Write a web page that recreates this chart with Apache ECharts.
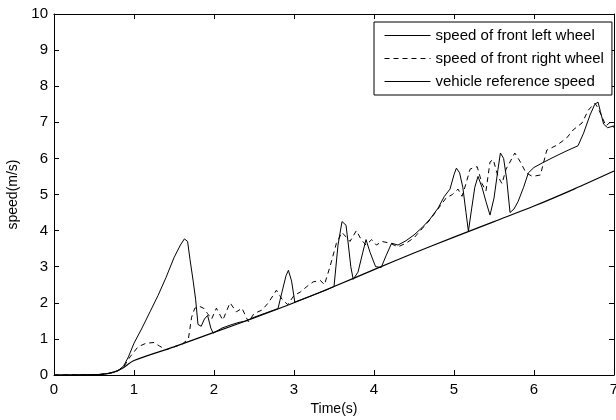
<!DOCTYPE html>
<html>
<head>
<meta charset="utf-8">
<script src="https://cdn.jsdelivr.net/npm/echarts@6/dist/echarts.min.js"></script>
<style>html,body{margin:0;padding:0;background:#fff}#c{width:616px;height:420px}</style>
</head>
<body>
<div id="c"></div>
<script>
var seriesNames = ['speed of front left wheel', 'speed of front right wheel', 'vehicle reference speed'];
var xTicks = [0, 1, 2, 3, 4, 5, 6, 7];
var yTicks = [0, 1, 2, 3, 4, 5, 6, 7, 8, 9, 10];

var leftTime = [0, 0.55, 0.7, 0.8, 0.87, 0.93, 1.0, 1.1, 1.2, 1.3, 1.4, 1.5, 1.58, 1.63, 1.67, 1.7, 1.74, 1.77, 1.8, 1.84, 1.88, 1.92, 1.96, 1.99, 2.1, 2.2, 2.3, 2.4, 2.5, 2.6, 2.7, 2.8, 2.85, 2.9, 2.93, 2.97, 3.01, 3.2, 3.4, 3.5, 3.55, 3.6, 3.65, 3.68, 3.71, 3.74, 3.8, 3.86, 3.9, 3.95, 4.02, 4.09, 4.15, 4.22, 4.3, 4.4, 4.5, 4.6, 4.7, 4.8, 4.88, 4.95, 5.0, 5.03, 5.07, 5.11, 5.15, 5.18, 5.22, 5.26, 5.3, 5.35, 5.4, 5.45, 5.5, 5.55, 5.58, 5.62, 5.66, 5.7, 5.75, 5.8, 5.87, 5.93, 6.0, 6.1, 6.25, 6.4, 6.55, 6.62, 6.7, 6.76, 6.8, 6.83, 6.87, 6.92, 7.0];
var leftSpeed = [0, 0.01, 0.05, 0.12, 0.25, 0.5, 0.88, 1.3, 1.75, 2.2, 2.7, 3.25, 3.6, 3.77, 3.7, 3.2, 2.6, 2.1, 1.4, 1.35, 1.55, 1.65, 1.3, 1.16, 1.3, 1.38, 1.45, 1.5, 1.6, 1.68, 1.76, 1.84, 2.3, 2.75, 2.9, 2.6, 2.02, 2.18, 2.35, 2.45, 3.6, 4.25, 4.15, 3.6, 3.0, 2.65, 2.85, 3.4, 3.75, 3.4, 3.0, 2.98, 3.3, 3.65, 3.6, 3.72, 3.88, 4.08, 4.32, 4.62, 4.95, 5.15, 5.55, 5.73, 5.6, 5.2, 4.5, 3.98, 4.6, 5.2, 5.5, 5.2, 4.8, 4.43, 4.9, 5.7, 6.15, 6.0, 5.4, 4.5, 4.6, 4.8, 5.2, 5.6, 5.75, 5.87, 6.04, 6.2, 6.35, 6.7, 7.2, 7.5, 7.56, 7.3, 6.95, 6.85, 6.9];

var rightTime = [0, 0.55, 0.7, 0.8, 0.87, 0.95, 1.05, 1.15, 1.25, 1.32, 1.4, 1.5, 1.6, 1.68, 1.72, 1.76, 1.82, 1.87, 1.92, 1.97, 2.03, 2.11, 2.2, 2.28, 2.35, 2.43, 2.5, 2.6, 2.68, 2.78, 2.85, 2.92, 3.0, 3.08, 3.16, 3.24, 3.33, 3.38, 3.45, 3.53, 3.6, 3.7, 3.78, 3.84, 3.9, 3.97, 4.03, 4.1, 4.2, 4.3, 4.4, 4.5, 4.6, 4.7, 4.8, 4.9, 4.98, 5.05, 5.1, 5.15, 5.2, 5.25, 5.29, 5.35, 5.4, 5.45, 5.49, 5.55, 5.6, 5.65, 5.7, 5.76, 5.83, 5.9, 5.98, 6.08, 6.16, 6.29, 6.41, 6.49, 6.6, 6.68, 6.76, 6.8, 6.85, 6.9, 6.95, 7.0];
var rightSpeed = [0, 0.01, 0.05, 0.12, 0.22, 0.5, 0.78, 0.88, 0.9, 0.8, 0.7, 0.78, 0.85, 1.0, 1.6, 1.85, 1.9, 1.85, 1.7, 1.55, 1.85, 1.52, 2.0, 1.75, 1.85, 1.47, 1.7, 1.8, 2.0, 2.35, 2.1, 1.95, 2.2, 2.3, 2.45, 2.58, 2.62, 2.5, 3.0, 3.65, 3.95, 3.7, 4.0, 3.75, 3.6, 3.75, 3.6, 3.7, 3.65, 3.55, 3.65, 3.8, 4.05, 4.3, 4.6, 4.9, 5.0, 5.15, 4.95, 5.3, 5.7, 5.75, 5.77, 5.3, 5.1, 5.9, 5.97, 5.5, 5.3, 5.7, 5.9, 6.15, 5.9, 5.6, 5.5, 5.54, 6.23, 6.37, 6.57, 6.79, 6.98, 7.34, 7.53, 7.4, 7.15, 6.9, 7.0, 6.85];

var refTime = [0, 0.6, 0.75, 0.85, 1.0, 1.5, 2.0, 2.5, 3.0, 3.5, 4.0, 4.5, 5.0, 5.5, 6.0, 6.5, 7.0];
var refSpeed = [0, 0.02, 0.08, 0.18, 0.4, 0.78, 1.18, 1.58, 2.0, 2.45, 2.92, 3.38, 3.82, 4.25, 4.68, 5.15, 5.65];

function pairs(t, v) { return t.map(function (x, i) { return [x, v[i]]; }); }

var chart = echarts.init(document.getElementById('c'), null, { renderer: 'canvas' });
var font = 'Liberation Sans, Arial, sans-serif';
var axisCommon = {
  axisLine: { show: true, onZero: false, lineStyle: { color: '#000', width: 1 } },
  axisTick: { show: true, inside: true, length: 5, lineStyle: { color: '#000' } },
  splitLine: { show: false }
};
chart.setOption({
  animation: false,
  backgroundColor: '#fff',
  grid: { left: 54, right: 2, top: 14, bottom: 45, containLabel: false, outerBoundsMode: 'none' },
  legend: {
    orient: 'vertical',
    left: 374, top: 22,
    padding: [6, 8, 6, 10],
    itemGap: 8,
    itemWidth: 46, itemHeight: 14,
    backgroundColor: '#fff',
    borderColor: '#000', borderWidth: 1, borderRadius: 0,
    itemStyle: { opacity: 0 },
    lineStyle: { width: 1 },
    textStyle: { fontFamily: font, fontSize: 15, color: '#000' },
    data: seriesNames
  },
  xAxis: [
    Object.assign({
      type: 'value', min: xTicks[0], max: xTicks[xTicks.length - 1], interval: 1,
      name: 'Time(s)', nameLocation: 'middle', nameGap: 26,
      nameTextStyle: { fontFamily: font, fontSize: 14, color: '#000' },
      axisLabel: { fontFamily: font, fontSize: 15, color: '#000', margin: 7 }
    }, axisCommon),
    Object.assign({
      type: 'value', position: 'top', min: xTicks[0], max: xTicks[xTicks.length - 1], interval: 1,
      axisLabel: { show: false }
    }, axisCommon)
  ],
  yAxis: [
    Object.assign({
      type: 'value', min: yTicks[0], max: yTicks[yTicks.length - 1], interval: 1,
      name: 'speed(m/s)', nameLocation: 'middle', nameGap: 34,
      nameTextStyle: { fontFamily: font, fontSize: 14, color: '#000' },
      axisLabel: { fontFamily: font, fontSize: 15, color: '#000', margin: 6 }
    }, axisCommon),
    Object.assign({
      type: 'value', position: 'right', min: yTicks[0], max: yTicks[yTicks.length - 1], interval: 1,
      axisLabel: { show: false }
    }, axisCommon)
  ],
  series: [
    { name: seriesNames[0], type: 'line', showSymbol: false, symbol: 'none', data: pairs(leftTime, leftSpeed),
      lineStyle: { color: '#000', width: 1, type: 'solid' }, itemStyle: { color: '#000' } },
    { name: seriesNames[1], type: 'line', showSymbol: false, symbol: 'none', data: pairs(rightTime, rightSpeed),
      lineStyle: { color: '#000', width: 1, type: [5, 4] }, itemStyle: { color: '#000' } },
    { name: seriesNames[2], type: 'line', showSymbol: false, symbol: 'none', data: pairs(refTime, refSpeed), smooth: 0.3,
      lineStyle: { color: '#000', width: 1.2, type: 'solid' }, itemStyle: { color: '#000' } }
  ]
});
</script>
</body>
</html>
